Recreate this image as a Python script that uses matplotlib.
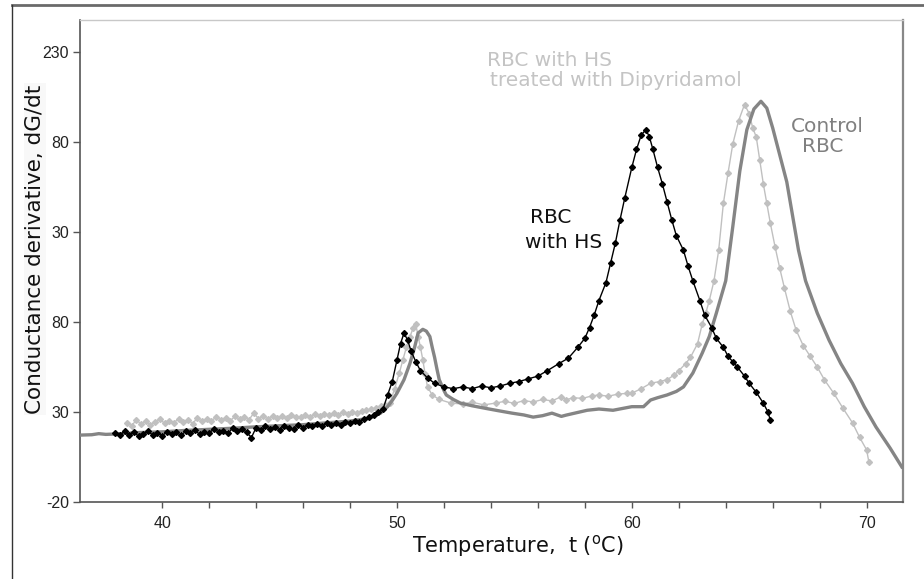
import matplotlib
matplotlib.use("Agg")
import matplotlib.pyplot as plt
from matplotlib.lines import Line2D

# RBC with HS (black)
hs_t = [38.0, 38.2, 38.4, 38.6, 38.8, 39.0, 39.2, 39.4, 39.6, 39.8,
        40.0, 40.2, 40.4, 40.6, 40.8, 41.0, 41.2, 41.4, 41.6, 41.8,
        42.0, 42.2, 42.4, 42.6, 42.8, 43.0, 43.2, 43.4, 43.6, 43.8,
        44.0, 44.2, 44.4, 44.6, 44.8, 45.0, 45.2, 45.4, 45.6, 45.8,
        46.0, 46.2, 46.4, 46.6, 46.8, 47.0, 47.2, 47.4, 47.6, 47.8,
        48.0, 48.2, 48.4, 48.6, 48.8, 49.0, 49.2, 49.4, 49.6, 49.8,
        50.0, 50.15, 50.3, 50.45, 50.6, 50.8, 51.0, 51.3, 51.6, 52.0,
        52.4, 52.8, 53.2, 53.6, 54.0, 54.4, 54.8, 55.2, 55.6, 56.0,
        56.4, 56.9, 57.3, 57.7, 58.0, 58.2, 58.4, 58.6, 58.9, 59.1,
        59.3, 59.5, 59.7, 60.0, 60.2, 60.4, 60.6, 60.75, 60.9, 61.1,
        61.3, 61.5, 61.7, 61.9, 62.2, 62.4, 62.6, 62.9, 63.1, 63.4,
        63.6, 63.9, 64.1, 64.3, 64.5, 64.8, 65.0, 65.3, 65.6, 65.8, 65.9]
hs_y = [18.5, 17.0, 19.5, 17.5, 18.8, 16.5, 18.0, 19.2, 17.2, 18.6,
        16.8, 19.0, 17.8, 18.9, 17.0, 19.4, 18.2, 19.8, 17.6, 19.0,
        18.4, 20.5, 19.0, 19.6, 18.2, 21.0, 19.4, 20.6, 18.8, 15.8,
        21.4, 19.8, 22.0, 20.4, 21.6, 20.2, 22.4, 21.0, 20.6, 22.8,
        21.4, 23.0, 22.0, 23.4, 22.2, 23.8, 22.6, 24.0, 23.0, 24.6,
        24.0, 25.0, 24.6, 26.0, 27.0, 28.5, 30.0, 31.5, 39.5, 47.0,
        59.0, 68.0, 74.0, 70.0, 64.0, 58.0, 53.0, 49.0, 46.0, 44.0,
        43.0, 44.0, 43.0, 44.5, 43.5, 44.5, 46.0, 47.0, 48.5, 50.0,
        53.0, 57.0, 60.0, 66.0, 71.0, 77.0, 84.0, 92.0, 102.0, 113.0,
        124.0, 137.0, 149.0, 166.0, 176.0, 184.0, 187.0, 183.0, 176.0, 166.0,
        157.0, 147.0, 137.0, 128.0, 120.0, 111.0, 103.0, 92.0, 84.0, 77.0,
        71.0, 66.0, 61.0, 58.0, 55.0, 50.0, 46.0, 41.0, 35.0, 30.0, 25.5]

# RBC with HS treated with Dipyridamol (light grey)
dip_t = [38.5, 38.7, 38.9, 39.1, 39.3, 39.5, 39.7, 39.9, 40.1, 40.3,
         40.5, 40.7, 40.9, 41.1, 41.3, 41.5, 41.7, 41.9, 42.1, 42.3,
         42.5, 42.7, 42.9, 43.1, 43.3, 43.5, 43.7, 43.9, 44.1, 44.3,
         44.5, 44.7, 44.9, 45.1, 45.3, 45.5, 45.7, 45.9, 46.1, 46.3,
         46.5, 46.7, 46.9, 47.1, 47.3, 47.5, 47.7, 47.9, 48.1, 48.3,
         48.5, 48.7, 48.9, 49.1, 49.3, 49.5, 49.7, 49.9, 50.1, 50.25,
         50.4, 50.55, 50.7, 50.8, 50.9, 51.0, 51.1, 51.2, 51.3, 51.5,
         51.8, 52.3, 52.8, 53.2, 53.7, 54.2, 54.6, 55.0, 55.4, 55.8,
         56.2, 56.6, 57.0, 57.2, 57.5, 57.9, 58.3, 58.6, 59.0, 59.4,
         59.8, 60.0, 60.4, 60.8, 61.2, 61.5, 61.8, 62.0, 62.3, 62.5,
         62.8, 63.0, 63.15, 63.3, 63.5, 63.7, 63.9, 64.1, 64.3, 64.55,
         64.8, 65.0, 65.15, 65.3, 65.45, 65.6, 65.75, 65.9, 66.1, 66.3,
         66.5, 66.75, 67.0, 67.3, 67.6, 67.9, 68.2, 68.6, 69.0, 69.4,
         69.7, 70.0, 70.1]
dip_y = [24.0, 22.5, 25.5, 23.5, 25.0, 22.8, 24.6, 26.0, 23.8, 25.2,
         24.0, 26.4, 24.4, 25.8, 23.6, 26.8, 24.8, 26.2, 25.0, 27.4,
         25.6, 26.8, 25.2, 27.6, 26.0, 27.2, 25.8, 29.4, 26.4, 27.8,
         26.2, 28.0, 26.8, 27.6, 26.6, 28.4, 27.0, 27.4, 28.6, 27.2,
         28.8, 27.6, 29.0, 28.2, 29.4, 28.4, 29.8, 29.0, 30.0, 29.4,
         30.6, 31.0, 31.6, 32.4, 33.4, 34.2, 35.0, 43.0, 51.7, 59.0,
         66.0, 72.0, 77.0, 79.0, 72.0, 66.0, 59.0, 51.0, 44.0, 39.5,
         37.0, 35.0, 34.5, 35.5, 34.0, 35.0, 36.0, 34.8, 36.4, 35.6,
         37.0, 36.2, 38.6, 36.8, 38.0, 37.6, 39.0, 39.5, 38.8, 40.0,
         40.4, 40.5, 43.0, 46.0, 47.0, 48.0, 50.5, 53.0, 57.0, 60.5,
         68.0, 79.0, 85.0, 92.0, 103.0, 120.0, 146.0, 163.0, 179.0, 192.0,
         201.0, 196.0, 188.0, 183.0, 170.0, 157.0, 146.0, 135.0, 122.0, 110.0,
         99.0, 86.0, 75.5, 67.0, 61.0, 55.0, 48.0, 40.5, 32.0, 24.0,
         16.0, 9.0, 2.0]

# Control RBC (dark grey)
ctl_t = [36.5, 37.0, 37.3, 37.6, 38.0, 38.5, 39.0, 40.0, 41.0, 42.0,
         43.0, 44.0, 45.0, 46.0, 47.0, 48.0, 48.8, 49.3, 49.6, 49.8,
         50.0, 50.3, 50.55, 50.75, 50.9, 51.1, 51.25, 51.4, 51.5, 51.6,
         51.7, 51.8, 52.0, 52.1, 52.4, 52.7, 53.2, 53.8, 54.3, 54.9,
         55.4, 55.8, 56.2, 56.6, 57.0, 57.2, 57.6, 58.1, 58.6, 59.2,
         59.6, 60.0, 60.5, 60.8, 61.1, 61.5, 61.9, 62.2, 62.6, 63.0,
         63.3, 63.6, 64.0, 64.3, 64.6, 64.9, 65.2, 65.5, 65.75, 66.0,
         66.3, 66.6, 66.85, 67.1, 67.4, 67.9, 68.4, 68.9, 69.4, 69.9,
         70.4, 71.0, 71.5]
ctl_y = [17.2, 17.4, 18.0, 17.6, 17.8, 18.2, 18.6, 19.0, 19.8, 20.4,
         21.0, 21.8, 22.4, 23.0, 24.0, 25.0, 26.5, 29.4, 33.0, 36.5,
         40.5, 48.0, 57.0, 66.0, 74.0, 76.0, 75.0, 72.0, 66.0, 60.5,
         54.0, 48.0, 42.0, 39.5, 37.0, 35.0, 33.5, 32.0, 30.8, 29.4,
         28.4, 27.2, 28.0, 29.4, 27.6, 28.3, 29.5, 31.0, 31.7, 31.0,
         32.0, 33.0, 33.0, 36.7, 38.0, 39.5, 41.5, 44.0, 51.7, 62.8,
         72.0, 85.0, 103.0, 133.0, 164.0, 187.0, 198.5, 202.8, 199.0, 188.0,
         173.0, 158.0, 139.0, 120.0, 103.0, 85.0, 70.0, 57.0, 46.0, 33.0,
         21.7, 10.0, -0.5]

x_ticks = list(range(40, 72, 2))
y_ticks = [-20, 30, 80, 130, 180, 230]
y_labels = ["-20", "30", "80", "30", "80", "230"]

W, H = 924, 579
fig = plt.figure(figsize=(W / 100, H / 100), dpi=100)


def fx(px):
    return px / W


def fy(py):
    return 1 - py / H


ax = fig.add_axes([fx(80), fy(502), fx(903) - fx(80), fy(20) - fy(502)])

ax.plot(dip_t, dip_y, color="#c0c0c0", lw=1.0, marker="D", ms=3.0,
        mec="#c0c0c0", mfc="#c0c0c0", zorder=2)
ax.plot(ctl_t, ctl_y, color="#858585", lw=2.4, zorder=3,
        solid_joinstyle="round")
ax.plot(hs_t, hs_y, color="black", lw=1.0, marker="D", ms=3.0,
        mec="black", mfc="black", zorder=4)

ax.set_xlim(36.5, 71.55)
ax.set_ylim(-20, 248)
ax.set_xticks(x_ticks)
ax.set_xticklabels([str(t) if t % 10 == 0 else "" for t in x_ticks])
ax.set_yticks(y_ticks)
ax.set_yticklabels(y_labels)

for lab in ax.get_xticklabels() + ax.get_yticklabels():
    lab.set_family("Liberation Sans")
    lab.set_fontsize(11.5)
    lab.set_color("#222222")
ax.tick_params(axis="x", length=4, width=1, color="#555555", pad=6)
ax.tick_params(axis="y", length=5, width=1, color="#555555", pad=3)

ax.spines["left"].set_color("#555555")
ax.spines["bottom"].set_color("#555555")
ax.spines["left"].set_linewidth(1.2)
ax.spines["bottom"].set_linewidth(1.2)
ax.spines["top"].set_color("#c8c8c8")
ax.spines["top"].set_linewidth(1.0)
ax.spines["right"].set_color("#888888")
ax.spines["right"].set_linewidth(1.6)

fig.text(fx(518), fy(546), "Temperature,  t ($^{\\mathregular{o}}$C)",
         ha="center", va="center", fontsize=15, color="#111111")
fig.text(fx(35), fy(249), "Conductance derivative, dG/dt", rotation=90,
         ha="center", va="center", fontsize=15.5, color="#111111",
         bbox=dict(facecolor="#f8f8f8", edgecolor="none", pad=1))

# series labels
fig.text(fx(612), fy(60), "RBC with HS", ha="right", va="center",
         fontsize=14.5, color="#c4c4c4")
fig.text(fx(742), fy(80), "treated with Dipyridamol", ha="right",
         va="center", fontsize=14.5, color="#c4c4c4")
fig.text(fx(827), fy(127), "Control", ha="center", va="center",
         fontsize=14.5, color="#808080")
fig.text(fx(823), fy(147), "RBC", ha="center", va="center",
         fontsize=14.5, color="#808080")
fig.text(fx(530), fy(217), "RBC", ha="left", va="center",
         fontsize=14.5, color="#111111")
fig.text(fx(525), fy(242), "with HS", ha="left", va="center",
         fontsize=14.5, color="#111111")

# outer frame of the picture
fig.add_artist(Line2D([fx(12), 1], [fy(5), fy(5)], color="#6a6a6a", lw=2))
fig.add_artist(Line2D([fx(12), fx(12)], [fy(5), 0], color="#333333", lw=1))

fig.savefig("out.png", dpi=100)
